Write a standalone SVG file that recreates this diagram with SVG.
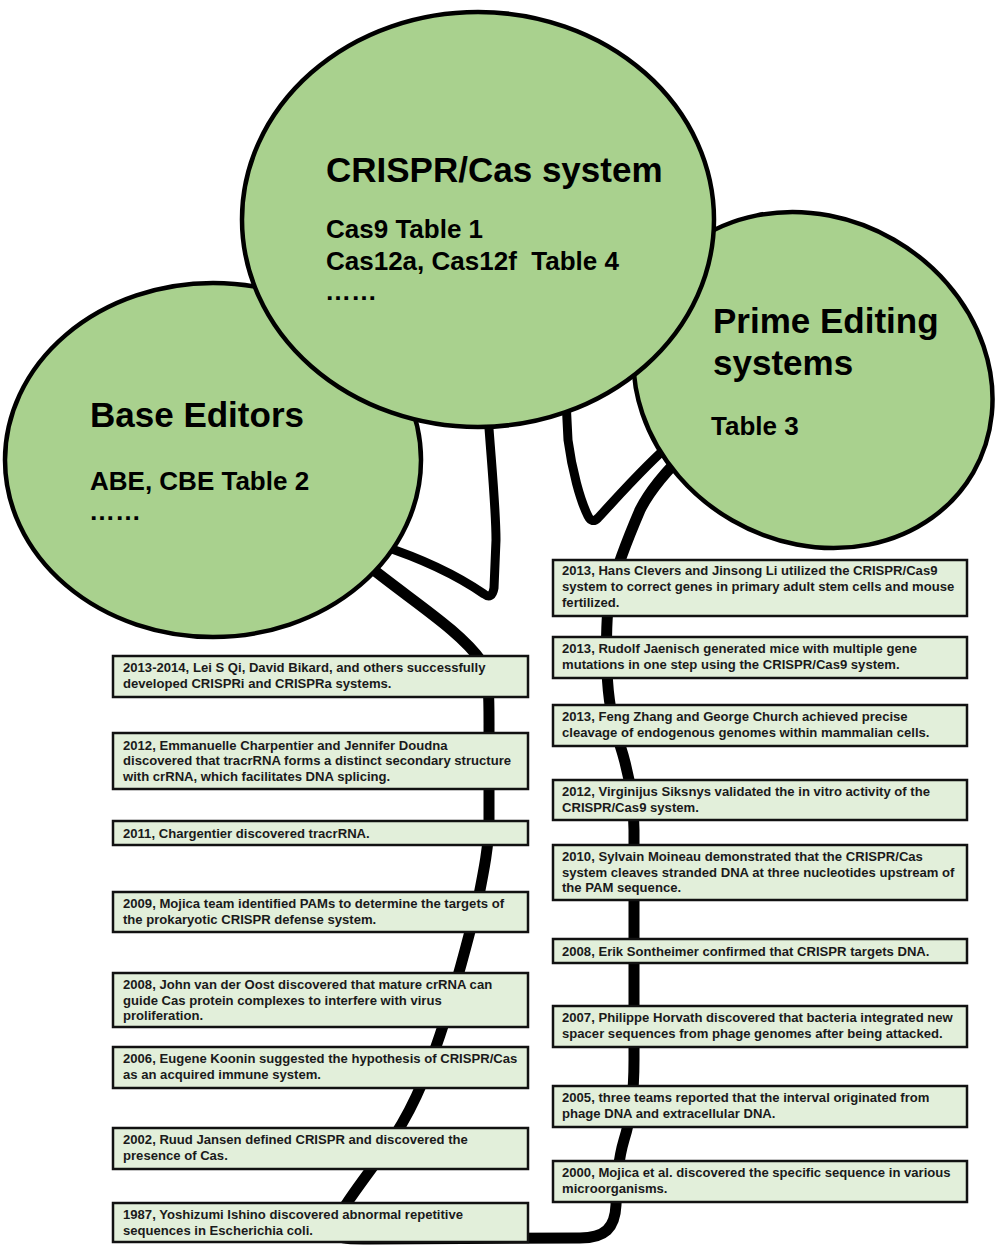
<svg xmlns="http://www.w3.org/2000/svg" width="1000" height="1247" viewBox="0 0 1000 1247">
<style>
.bg{fill:#ffffff}
.line{fill:none;stroke:#000000;stroke-linecap:round;stroke-linejoin:round}
.ell{fill:#a9d18e;stroke:#000;stroke-width:4.5}
.title{font-family:"Liberation Sans",Arial,sans-serif;font-weight:bold;font-size:35px;fill:#000}
.sub{font-family:"Liberation Sans",Arial,sans-serif;font-weight:bold;font-size:26px;fill:#000}
.box{fill:#e2efda;stroke:#111;stroke-width:2.5}
.bt{font-family:"Liberation Sans",Arial,sans-serif;font-weight:bold;font-size:13.1px;fill:#1a1a1a}
</style>
<rect class="bg" x="0" y="0" width="1000" height="1247"/>
<g id="connectors">
<path class="line" style="stroke-width:9px" d="M 380,545 C 420,558 455,574 484,594 Q 492,600 494,588 L 496,540 C 496,510 492,470 488,415"/>
<path class="line" style="stroke-width:9px" d="M 566,400 L 568,440 C 572,470 580,500 588,516 Q 592,524 598,518 C 615,500 645,465 675,440"/>
<path class="line" style="stroke-width:11px" d="M 360,559 C 410,600 460,630 482,662 C 490,680 489,700 489,740 L 489,820 C 489,845 484,870 478,900 C 468,940 455,990 440,1035 C 425,1080 410,1115 385,1150 C 360,1185 335,1215 335,1230 C 335,1240 350,1239 370,1239 L 580,1238 C 605,1238 615,1228 616,1205 C 617,1180 618,1160 624,1140 C 632,1115 634,1090 634,1060 L 634,830 C 634,800 628,770 620,745 C 612,720 608,700 607,670 C 606,640 606,610 611,590 C 616,570 625,545 640,510 C 650,490 665,472 688,450"/>
</g>
<g id="node-base-editors">
<ellipse class="ell" cx="213" cy="460" rx="208" ry="177"/>
<text class="title" x="90" y="427">Base Editors</text>
<text class="sub" x="90" y="490">ABE, CBE Table 2</text>
<text class="sub" x="89" y="520">……</text>
</g>
<g id="node-prime-editing">
<ellipse class="ell" cx="813" cy="380" rx="185" ry="162" transform="rotate(30 813 380)"/>
<text class="title" x="713" y="333">Prime Editing</text>
<text class="title" x="713" y="375">systems</text>
<text class="sub" x="711" y="435">Table 3</text>
</g>
<g id="node-crispr-cas">
<ellipse class="ell" cx="478" cy="219.5" rx="236" ry="207.5"/>
<text class="title" x="326" y="182">CRISPR/Cas system</text>
<text class="sub" x="326" y="238">Cas9 Table 1</text>
<text class="sub" x="326" y="270">Cas12a, Cas12f &#160;Table 4</text>
<text class="sub" x="325" y="300">……</text>
</g>
<g id="node-2013-2014">
<rect class="box" x="113" y="656" width="415" height="41"/>
<text class="bt" x="123" y="672"><tspan x="123">2013-2014, Lei S Qi, David Bikard, and others successfully</tspan><tspan x="123" dy="15.8">developed CRISPRi and CRISPRa systems.</tspan></text>
</g>
<g id="node-2012-charpentier">
<rect class="box" x="113" y="733" width="415" height="56"/>
<text class="bt" x="123" y="749.5"><tspan x="123">2012, Emmanuelle Charpentier and Jennifer Doudna</tspan><tspan x="123" dy="15.5">discovered that tracrRNA forms a distinct secondary structure</tspan><tspan x="123" dy="15.5">with crRNA, which facilitates DNA splicing.</tspan></text>
</g>
<g id="node-2011">
<rect class="box" x="113" y="821" width="415" height="24"/>
<text class="bt" x="123" y="837.5">2011, Chargentier discovered tracrRNA.</text>
</g>
<g id="node-2009">
<rect class="box" x="113" y="892" width="415" height="40"/>
<text class="bt" x="123" y="908"><tspan x="123">2009, Mojica team identified PAMs to determine the targets of</tspan><tspan x="123" dy="15.8">the prokaryotic CRISPR defense system.</tspan></text>
</g>
<g id="node-2008-oost">
<rect class="box" x="113" y="973" width="415" height="54"/>
<text class="bt" x="123" y="989"><tspan x="123">2008, John van der Oost discovered that mature crRNA can</tspan><tspan x="123" dy="15.5">guide Cas protein complexes to interfere with virus</tspan><tspan x="123" dy="15.5">proliferation.</tspan></text>
</g>
<g id="node-2006">
<rect class="box" x="113" y="1047" width="415" height="41"/>
<text class="bt" x="123" y="1063"><tspan x="123">2006, Eugene Koonin suggested the hypothesis of CRISPR/Cas</tspan><tspan x="123" dy="15.8">as an acquired immune system.</tspan></text>
</g>
<g id="node-2002">
<rect class="box" x="113" y="1128" width="415" height="41"/>
<text class="bt" x="123" y="1144"><tspan x="123">2002, Ruud Jansen defined CRISPR and discovered the</tspan><tspan x="123" dy="15.8">presence of Cas.</tspan></text>
</g>
<g id="node-1987">
<rect class="box" x="113" y="1203" width="415" height="39"/>
<text class="bt" x="123" y="1219"><tspan x="123">1987, Yoshizumi Ishino discovered abnormal repetitive</tspan><tspan x="123" dy="15.8">sequences in Escherichia coli.</tspan></text>
</g>
<g id="node-2013-clevers">
<rect class="box" x="553" y="560" width="414" height="56"/>
<text class="bt" x="562" y="575"><tspan x="562">2013, Hans Clevers and Jinsong Li utilized the CRISPR/Cas9</tspan><tspan x="562" dy="16.2">system to correct genes in primary adult stem cells and mouse</tspan><tspan x="562" dy="16.2">fertilized.</tspan></text>
</g>
<g id="node-2013-jaenisch">
<rect class="box" x="553" y="637" width="414" height="41"/>
<text class="bt" x="562" y="653"><tspan x="562">2013, Rudolf Jaenisch generated mice with multiple gene</tspan><tspan x="562" dy="15.8">mutations in one step using the CRISPR/Cas9 system.</tspan></text>
</g>
<g id="node-2013-zhang">
<rect class="box" x="553" y="705" width="414" height="41"/>
<text class="bt" x="562" y="721"><tspan x="562">2013, Feng Zhang and George Church achieved precise</tspan><tspan x="562" dy="15.8">cleavage of endogenous genomes within mammalian cells.</tspan></text>
</g>
<g id="node-2012-siksnys">
<rect class="box" x="553" y="780" width="414" height="40"/>
<text class="bt" x="562" y="796"><tspan x="562">2012, Virginijus Siksnys validated the in vitro activity of the</tspan><tspan x="562" dy="15.8">CRISPR/Cas9 system.</tspan></text>
</g>
<g id="node-2010">
<rect class="box" x="553" y="845" width="414" height="55"/>
<text class="bt" x="562" y="861"><tspan x="562">2010, Sylvain Moineau demonstrated that the CRISPR/Cas</tspan><tspan x="562" dy="15.5">system cleaves stranded DNA at three nucleotides upstream of</tspan><tspan x="562" dy="15.5">the PAM sequence.</tspan></text>
</g>
<g id="node-2008-sontheimer">
<rect class="box" x="553" y="939" width="414" height="24"/>
<text class="bt" x="562" y="955.5">2008, Erik Sontheimer confirmed that CRISPR targets DNA.</text>
</g>
<g id="node-2007">
<rect class="box" x="553" y="1006" width="414" height="41"/>
<text class="bt" x="562" y="1022"><tspan x="562">2007, Philippe Horvath discovered that bacteria integrated new</tspan><tspan x="562" dy="15.8">spacer sequences from phage genomes after being attacked.</tspan></text>
</g>
<g id="node-2005">
<rect class="box" x="553" y="1086" width="414" height="41"/>
<text class="bt" x="562" y="1102"><tspan x="562">2005, three teams reported that the interval originated from</tspan><tspan x="562" dy="15.8">phage DNA and extracellular DNA.</tspan></text>
</g>
<g id="node-2000">
<rect class="box" x="553" y="1161" width="414" height="41"/>
<text class="bt" x="562" y="1177"><tspan x="562">2000, Mojica et al. discovered the specific sequence in various</tspan><tspan x="562" dy="15.8">microorganisms.</tspan></text>
</g>
</svg>
